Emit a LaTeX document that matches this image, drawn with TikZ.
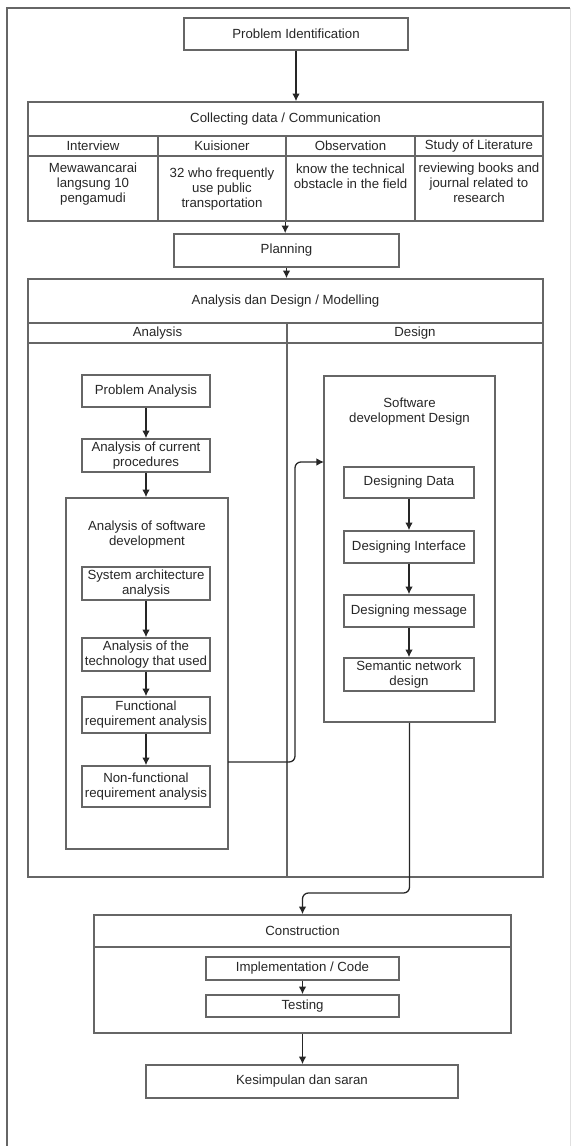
\documentclass[tikz,border=0pt]{standalone}
\usepackage{fontspec}
\setmainfont{Liberation Sans}
\usepackage{tikz}
\usetikzlibrary{arrows.meta,calc}
\newcommand{\px}{0.03cm}

\begin{document}
\begin{tikzpicture}[x=0.03cm,y=-0.03cm,>=Latex,
  font=\fontsize{11.3}{12.8}\selectfont,
  kasten/.style={draw=black!60,line width=1.4pt,text=black!85,align=center,inner sep=0pt},
  zelle/.style={kasten},
  titel/.style={text=black!85,align=center,inner sep=0pt},
  pfeil/.style={draw=black!85,line width=1.1pt,-{Latex[length=6.5pt,width=6.5pt]}},
  verbinder/.style={pfeil,rounded corners=5pt}]
  \useasboundingbox (0,0) rectangle (571,1146);
  % Rahmen
  \draw[black!60,line width=1.4pt] (7,1146) -- (7,8) -- (570,8);
  \draw[black!12,line width=0.8pt] (570,8) -- (570,1146);
  % Problem Identification
  \node[kasten,minimum width=224*\px,minimum height=32*\px] (probid) at (296,34) {Problem Identification};
  % Collecting data
  \node[zelle,minimum width=515*\px,minimum height=34*\px] (cd) at (285.5,119) {Collecting data / Communication};
  \node[zelle,minimum width=130*\px,minimum height=20*\px] (h1) at (93,146) {Interview};
  \node[zelle,minimum width=128*\px,minimum height=20*\px] (h2) at (222,146) {Kuisioner};
  \node[zelle,minimum width=129*\px,minimum height=20*\px] (h3) at (350.5,146) {Observation};
  \node[zelle,minimum width=128*\px,minimum height=20*\px] (h4) at (479,146) {Study of Literature};
  \node[zelle,minimum width=130*\px,minimum height=65*\px] (c1) at (93,188.5) {};
  \node[zelle,minimum width=128*\px,minimum height=65*\px] (c2) at (222,188.5) {};
  \node[zelle,minimum width=129*\px,minimum height=65*\px] (c3) at (350.5,188.5) {};
  \node[zelle,minimum width=128*\px,minimum height=65*\px] (c4) at (479,188.5) {};
  \node[titel] (t1) at (93,184) {Mewawancarai\\langsung 10\\pengamudi};
  \node[titel] (t2) at (222,189) {32 who frequently\\use public\\transportation};
  \node[titel] (t3) at (350.5,176) {know the technical\\obstacle in the field};
  \node[titel] (t4) at (479,183) {reviewing books and\\journal related to\\research};
  % Planning
  \node[kasten,minimum width=225*\px,minimum height=33*\px] (plan) at (286.5,250.5) {Planning};
  % Analysis dan Design
  \node[zelle,minimum width=515*\px,minimum height=44*\px] (ad) at (285.5,301) {Analysis dan Design / Modelling};
  \node[zelle,minimum width=259*\px,minimum height=20*\px] (anl) at (157.5,333) {Analysis};
  \node[zelle,minimum width=256*\px,minimum height=20*\px] (dsg) at (415,333) {Design};
  \node[zelle,minimum width=259*\px,minimum height=534*\px] (anlcol) at (157.5,610) {};
  \node[zelle,minimum width=256*\px,minimum height=534*\px] (dsgcol) at (415,610) {};
  % Analysis
  \node[kasten,minimum width=128*\px,minimum height=32*\px] (pa) at (146,391) {Problem Analysis};
  \node[kasten,minimum width=128*\px,minimum height=33*\px] (acp) at (146,455.5) {Analysis of current\\procedures};
  \node[kasten,minimum width=162*\px,minimum height=351*\px] (asd) at (147,673.5) {};
  \node[titel] (asdt) at (147,535) {Analysis of software\\development};
  \node[kasten,minimum width=128*\px,minimum height=33*\px] (saa) at (146,583.5) {System architecture\\analysis};
  \node[kasten,minimum width=128*\px,minimum height=33*\px] (atu) at (146,654.5) {Analysis of the\\technology that used};
  \node[kasten,minimum width=128*\px,minimum height=36*\px] (fra) at (146,715) {Functional\\requirement analysis};
  \node[kasten,minimum width=128*\px,minimum height=41*\px] (nfr) at (146,786.5) {Non-functional\\requirement analysis};
  % Design
  \node[kasten,minimum width=171*\px,minimum height=346*\px] (sdd) at (409.5,549) {};
  \node[titel] (sddt) at (409.5,412) {Software\\development Design};
  \node[kasten,minimum width=130*\px,minimum height=31*\px] (dd) at (409,482.5) {Designing Data};
  \node[kasten,minimum width=130*\px,minimum height=32*\px] (di) at (409,547) {Designing Interface};
  \node[kasten,minimum width=130*\px,minimum height=32*\px] (dm) at (409,611) {Designing message};
  \node[kasten,minimum width=130*\px,minimum height=33*\px] (snd) at (409,674.5) {Semantic network\\design};
  % Construction
  \node[zelle,minimum width=417*\px,minimum height=32*\px] (kon) at (302.5,931) {Construction};
  \node[zelle,minimum width=417*\px,minimum height=86*\px] (konbody) at (302.5,990) {};
  \node[kasten,minimum width=193*\px,minimum height=23*\px] (impl) at (302.5,968.5) {Implementation / Code};
  \node[kasten,minimum width=193*\px,minimum height=22*\px] (test) at (302.5,1006) {Testing};
  % Kesimpulan
  \node[kasten,minimum width=312*\px,minimum height=33*\px] (kes) at (302,1081.5) {Kesimpulan dan saran};
  % Pfeile
  \draw[pfeil] (probid.south) -- (probid.south |- cd.north);
  \draw[pfeil] (c3.south west) -- (c3.south west |- plan.north);
  \draw[pfeil] (plan.south) -- (plan.south |- ad.north);
  \draw[pfeil] (pa.south) -- (acp.north);
  \draw[pfeil] (acp.south) -- (acp.south |- asd.north);
  \draw[pfeil] (saa.south) -- (atu.north);
  \draw[pfeil] (atu.south) -- (fra.north);
  \draw[pfeil] (fra.south) -- (nfr.north);
  \draw[pfeil] (dd.south) -- (di.north);
  \draw[pfeil] (di.south) -- (dm.north);
  \draw[pfeil] (dm.south) -- (snd.north);
  \coordinate (asdaus) at (228,762);
  \coordinate (sddein) at (324,462);
  \draw[verbinder] (asdaus) -| (295,462) -- (sddein);
  \draw[verbinder] (sdd.south) -- (409.5,893) -| (kon.north);
  \draw[pfeil] (impl.south) -- (test.north);
  \draw[pfeil] (konbody.south) -- (konbody.south |- kes.north);
\end{tikzpicture}
\end{document}
